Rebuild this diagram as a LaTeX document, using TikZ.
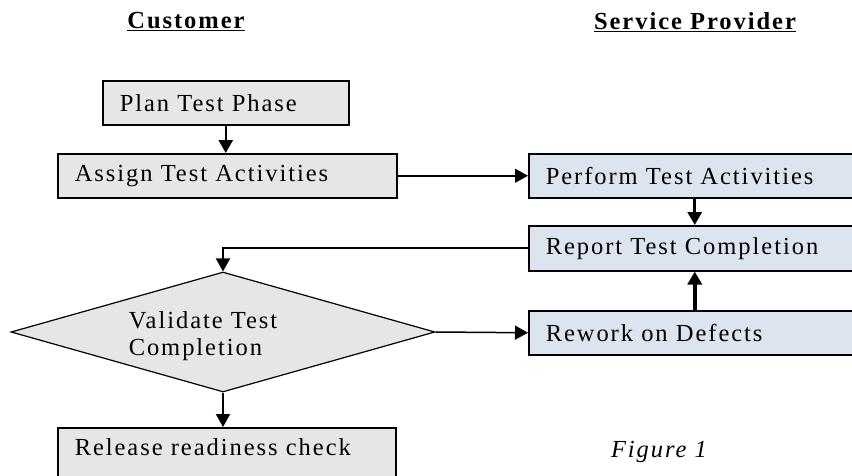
\documentclass[tikz,border=0pt]{standalone}
\usepackage{fontspec}
\setmainfont{Liberation Serif}[LetterSpace=8]
\usepackage{xcolor}
\usepackage{tikz}
\usetikzlibrary{shapes.geometric,arrows.meta}

\definecolor{custgray}{RGB}{230,230,230}
\definecolor{provblue}{RGB}{220,228,240}

\begin{document}
\begin{tikzpicture}[x=1pt, y=-1pt, line width=1.5pt,
    font=\fontsize{24.5}{27}\selectfont,
    box/.style={draw, anchor=north west, inner xsep=17pt, inner ysep=0pt,
        minimum height=44pt, align=left},
    custbox/.style={box, fill=custgray},
    provbox/.style={box, fill=provblue, text width=298pt},
    arr/.style={-{Triangle[length=13pt, width=14pt]}}]
    \useasboundingbox (0,0) rectangle (852,475);
    \node (cust) at (186,22) {\textbf{\underline{Customer}}};
    \node (prov) at (695,22) {\textbf{\underline{Service Provider}}};
    \node[custbox, text width=212pt] (plan) at (102,80) {Plan Test Phase};
    \node[custbox, text width=305pt] (assign) at (57,153) {Assign Test Activities};
    \node[provbox] (perform) at (528,153) {Perform Test Activities};
    \node[provbox, minimum height=45pt] (report) at (528,225) {Report Test Completion};
    \node[provbox] (rework) at (528,310) {Rework on Defects};
    \node[draw, diamond, fill=custgray, line width=1.2pt, inner sep=0pt,
        minimum width=424pt, minimum height=120pt] (validate) at (223,332) {};
    \node[anchor=west, align=left, inner sep=0pt] (valtext) at (128,336)
        {Validate Test\\Completion};
    \node[custbox, text width=304pt, text height=28pt, text depth=32pt]
        (release) at (57,427) {Release readiness check};
    \node[font=\fontsize{24.5}{27}\selectfont\itshape] (fig) at (659,452) {Figure 1};
    \draw[arr, line width=2.5pt] (plan.south) -- (plan.south |- assign.north);
    \draw[arr] (assign.east) -- (perform.west);
    \draw[arr, line width=3pt] (perform.south) -- (report.north);
    \draw[arr, line width=2pt] (report.west) -| (validate.north);
    \draw[arr] (validate.east) -- (rework.west);
    \draw[arr, line width=4pt] (rework.north) -- (report.south);
    \draw[arr, line width=2pt] (validate.south) -- (validate.south |- release.north);
\end{tikzpicture}
\end{document}
